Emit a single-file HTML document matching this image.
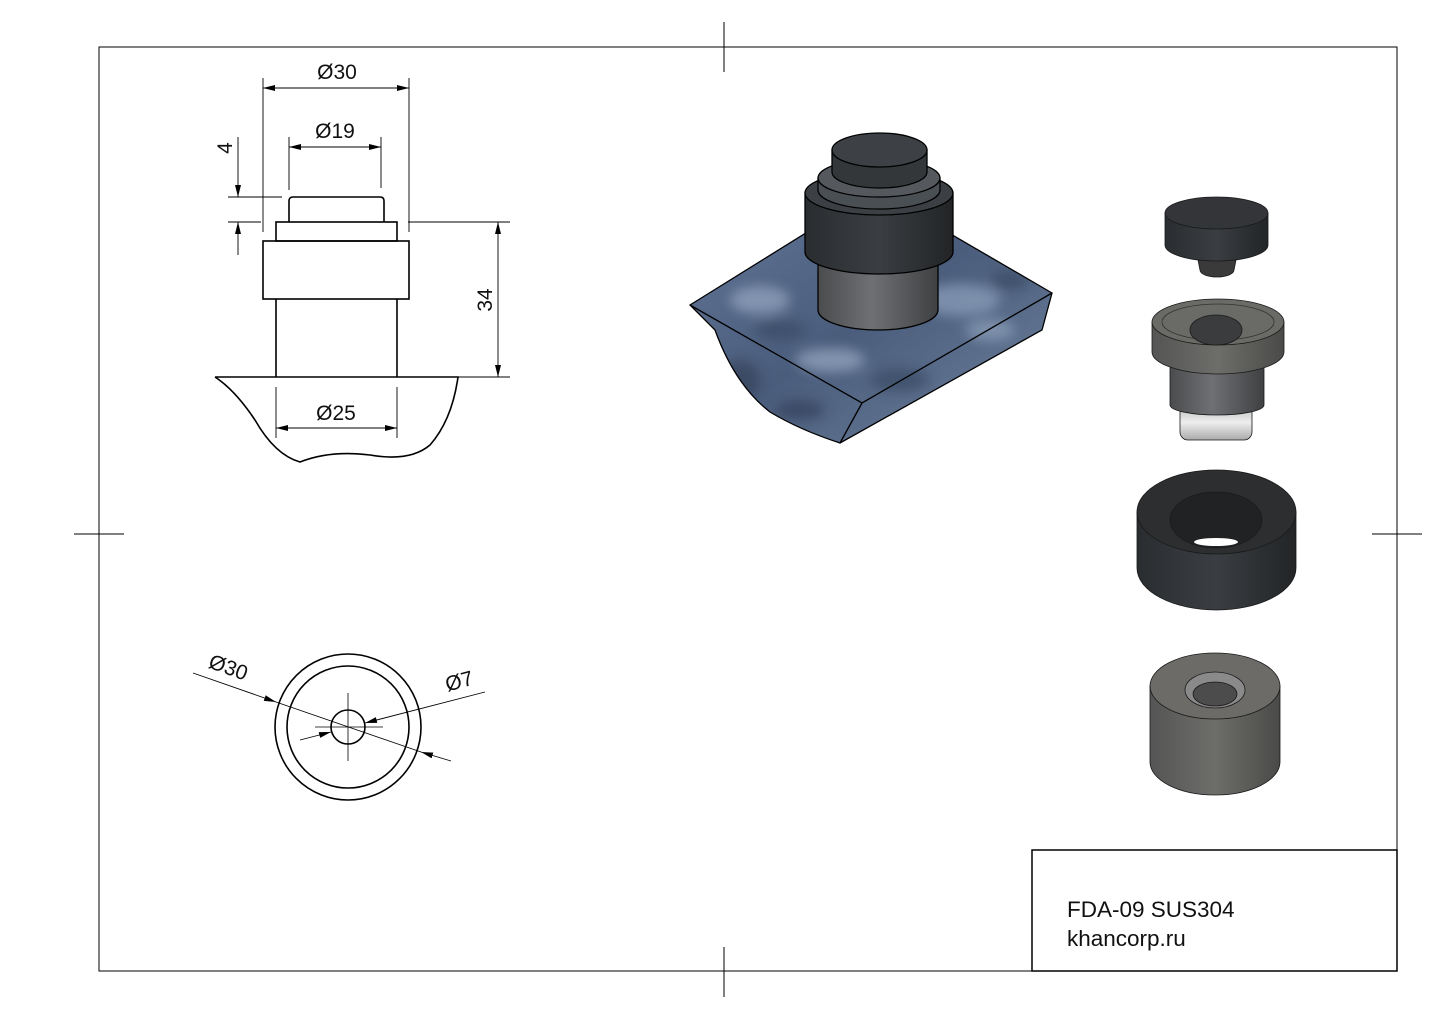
<!DOCTYPE html>
<html><head><meta charset="utf-8"><style>
html,body{margin:0;padding:0;background:#fff;}
svg{display:block;}
text{font-family:"Liberation Sans",Arial,sans-serif;fill:#111;}
</style></head><body>
<svg width="1444" height="1021" viewBox="0 0 1444 1021" xmlns="http://www.w3.org/2000/svg">
<defs>
<marker id="ar" viewBox="0 0 12 6" refX="12" refY="3" markerWidth="12" markerHeight="6" orient="auto-start-reverse" markerUnits="userSpaceOnUse"><path d="M0,0 L12,3 L0,6 z" fill="#000"/></marker>
<linearGradient id="marb" x1="0" y1="0" x2="1" y2="1"><stop offset="0" stop-color="#65789a"/><stop offset="0.5" stop-color="#4a5d7c"/><stop offset="1" stop-color="#70849f"/></linearGradient>
<linearGradient id="dk" x1="0" x2="1"><stop offset="0" stop-color="#2a2d30"/><stop offset="0.5" stop-color="#3a3e42"/><stop offset="1" stop-color="#222426"/></linearGradient>
<linearGradient id="gr" x1="0" x2="1"><stop offset="0" stop-color="#4a4c4e"/><stop offset="0.45" stop-color="#6e7073"/><stop offset="1" stop-color="#3e4042"/></linearGradient>
<linearGradient id="bgr" x1="0" x2="1"><stop offset="0" stop-color="#555"/><stop offset="0.5" stop-color="#6d6d6a"/><stop offset="1" stop-color="#4a4a48"/></linearGradient>
<linearGradient id="thr" x1="0" y1="0" x2="0" y2="1"><stop offset="0" stop-color="#bbb"/><stop offset="0.5" stop-color="#eee"/><stop offset="1" stop-color="#aaa"/></linearGradient>
<filter id="blur"><feGaussianBlur stdDeviation="6"/></filter>
<clipPath id="slab"><path d="M690,305 L875,190 L1052,293 L1042,330 L840,443 Q800,430 770,412 Q735,385 715,330 Z"/></clipPath>
</defs>
<g stroke="#000" fill="none" stroke-width="1">
<rect x="99" y="47" width="1298" height="924"/>
<line x1="724" y1="22" x2="724" y2="72"/><line x1="724" y1="947" x2="724" y2="997"/>
<line x1="74" y1="534" x2="124" y2="534"/><line x1="1372" y1="534" x2="1422" y2="534"/>
<rect x="1032" y="850" width="365" height="121" stroke-width="1.5"/>
</g>
<text x="1067" y="917" font-size="22.5">FDA-09 SUS304</text>
<text x="1067" y="946" font-size="22.5">khancorp.ru</text>

<g stroke="#000" fill="none" stroke-width="1.6">
<path d="M289,222 L289,201 Q289,197 293,197 L380,197 Q384,197 384,201 L384,222"/>
<rect x="276" y="222" width="121" height="19"/>
<rect x="263" y="241" width="146" height="58"/>
<path d="M276,299 L276,377 M397,299 L397,377"/>
<path d="M215,377 L458,377 Q452,420 430,445 Q410,462 370,455 Q330,450 300,462 Q275,455 255,420 Q235,390 215,377"/>
</g>
<g stroke="#000" fill="none" stroke-width="0.9">
<line x1="263" y1="78" x2="263" y2="232"/><line x1="409" y1="78" x2="409" y2="232"/>
<line x1="263" y1="88" x2="409" y2="88" marker-start="url(#ar)" marker-end="url(#ar)"/>
<line x1="289" y1="137" x2="289" y2="190"/><line x1="381" y1="137" x2="381" y2="188"/>
<line x1="289" y1="147" x2="381" y2="147" marker-start="url(#ar)" marker-end="url(#ar)"/>
<line x1="228" y1="197" x2="282" y2="197"/><line x1="228" y1="222" x2="261" y2="222"/>
<line x1="238" y1="137" x2="238" y2="197" marker-end="url(#ar)"/>
<line x1="238" y1="255" x2="238" y2="222" marker-end="url(#ar)"/>
<line x1="408" y1="222" x2="510" y2="222"/><line x1="458" y1="377" x2="510" y2="377"/>
<line x1="498" y1="222" x2="498" y2="377" marker-start="url(#ar)" marker-end="url(#ar)"/>
<line x1="276" y1="387" x2="276" y2="438"/><line x1="397" y1="387" x2="397" y2="438"/>
<line x1="276" y1="428" x2="397" y2="428" marker-start="url(#ar)" marker-end="url(#ar)"/>
</g>
<text x="337" y="79" font-size="21" text-anchor="middle">Ø30</text>
<text x="335" y="138" font-size="21" text-anchor="middle">Ø19</text>
<text x="336" y="420" font-size="21" text-anchor="middle">Ø25</text>
<text transform="translate(232,148) rotate(-90)" font-size="21" text-anchor="middle">4</text>
<text transform="translate(492,300) rotate(-90)" font-size="21" text-anchor="middle">34</text>

<g stroke="#000" fill="none">
<circle cx="348" cy="727" r="73" stroke-width="1.6"/>
<circle cx="348" cy="727" r="61" stroke-width="1.6"/>
<circle cx="348" cy="727" r="17" stroke-width="1.6"/>
<line x1="348" y1="693" x2="348" y2="761" stroke-width="0.8"/>
<line x1="315" y1="727" x2="383" y2="727" stroke-width="0.8"/>
<line x1="193" y1="673" x2="276" y2="702" stroke-width="0.9" marker-end="url(#ar)"/>
<line x1="276" y1="702" x2="421" y2="752" stroke-width="0.9"/>
<line x1="451" y1="761" x2="421" y2="752" stroke-width="0.9" marker-end="url(#ar)"/>
<line x1="485" y1="692" x2="365" y2="723" stroke-width="0.9" marker-end="url(#ar)"/>
<line x1="300" y1="740" x2="331" y2="732" stroke-width="0.9" marker-end="url(#ar)"/>
</g>
<text transform="translate(226,674) rotate(20)" font-size="21" text-anchor="middle">Ø30</text>
<text transform="translate(461,688) rotate(-15)" font-size="21" text-anchor="middle">Ø7</text>

<g clip-path="url(#slab)">
<rect x="680" y="180" width="380" height="270" fill="url(#marb)"/>
<g filter="url(#blur)" opacity="0.55">
<ellipse cx="760" cy="300" rx="30" ry="14" fill="#a9bad0"/>
<ellipse cx="960" cy="300" rx="40" ry="16" fill="#9fb2cc"/>
<ellipse cx="830" cy="360" rx="35" ry="12" fill="#aebfd6"/>
<ellipse cx="740" cy="380" rx="20" ry="20" fill="#2d3a50"/>
<ellipse cx="900" cy="380" rx="30" ry="12" fill="#33425a"/>
<ellipse cx="1010" cy="280" rx="20" ry="10" fill="#33425a"/>
<ellipse cx="800" cy="410" rx="25" ry="10" fill="#2b3850"/>
<ellipse cx="780" cy="330" rx="25" ry="10" fill="#33425a"/>
<ellipse cx="990" cy="330" rx="25" ry="10" fill="#a0b2ca"/>
</g>
</g>
<g stroke="#000" stroke-width="1.3" fill="none">
<path d="M690,305 L875,190 L1052,293 L1042,330 L840,443 Q800,430 770,412 Q735,385 715,330 Z"/>
<path d="M690,305 L862,403 L1052,293 M862,403 L840,443"/>
</g>
<g stroke="#000" stroke-width="1.3">
<path d="M818,250 L818,310 A60,20 0 0 0 938,310 L938,250 Z" fill="url(#gr)"/>
<path d="M805,193 L805,252 A74,22 0 0 0 953,252 L953,193 Z" fill="url(#dk)"/>
<ellipse cx="879" cy="193" rx="74" ry="22" fill="#3c4044"/>
<path d="M818,178 L818,190 A61,19 0 0 0 940,190 L940,178 Z" fill="#4a4f53"/>
<ellipse cx="879" cy="178" rx="61" ry="19" fill="#55595d"/>
<path d="M832,150 L832,172 A47.5,16 0 0 0 927,172 L927,150 Z" fill="#33373a"/>
<ellipse cx="879.5" cy="150" rx="47.5" ry="17" fill="#3d4145"/>
</g>

<g stroke="#1a1a1a" stroke-width="0.8">
<path d="M1197,255 L1200,270 A17,7 0 0 0 1234,270 L1237,255 Z" fill="#3a3a3a"/>
<path d="M1165,213 L1165,245 A51.5,16 0 0 0 1268,245 L1268,213 Z" fill="url(#dk)"/>
<ellipse cx="1216.5" cy="213" rx="51.5" ry="16" fill="#333538"/>

<rect x="1180" y="405" width="72" height="35" rx="8" fill="url(#thr)"/>
<path d="M1170,335 L1170,405 A47,10 0 0 0 1264,405 L1264,335 Z" fill="url(#gr)"/>
<path d="M1152,322 L1152,352 A66,22 0 0 0 1284,352 L1284,322 Z" fill="url(#bgr)"/>
<ellipse cx="1218" cy="322" rx="66" ry="23" fill="#6a6a66"/>
<ellipse cx="1218" cy="322" rx="56" ry="18" fill="none" stroke="#333"/>
<ellipse cx="1216" cy="330" rx="26" ry="15" fill="#3a3c3e"/>

<path d="M1137,512 L1137,568 A79.5,42 0 0 0 1296,568 L1296,512 Z" fill="url(#dk)"/>
<ellipse cx="1216.5" cy="512" rx="79.5" ry="42" fill="#2c2e30"/>
<ellipse cx="1216" cy="520" rx="46" ry="28" fill="#202224"/>
<ellipse cx="1216" cy="542" rx="22" ry="4" fill="#fff" stroke="none"/>

<path d="M1150,686 L1150,762 A65,33 0 0 0 1280,762 L1280,686 Z" fill="url(#bgr)"/>
<ellipse cx="1215" cy="686" rx="65" ry="33" fill="#6c6b68"/>
<ellipse cx="1215" cy="690" rx="30" ry="18" fill="#8a8a8a"/>
<ellipse cx="1215" cy="694" rx="22" ry="12" fill="#4c4c4c"/>
</g>
</svg>
</body></html>
